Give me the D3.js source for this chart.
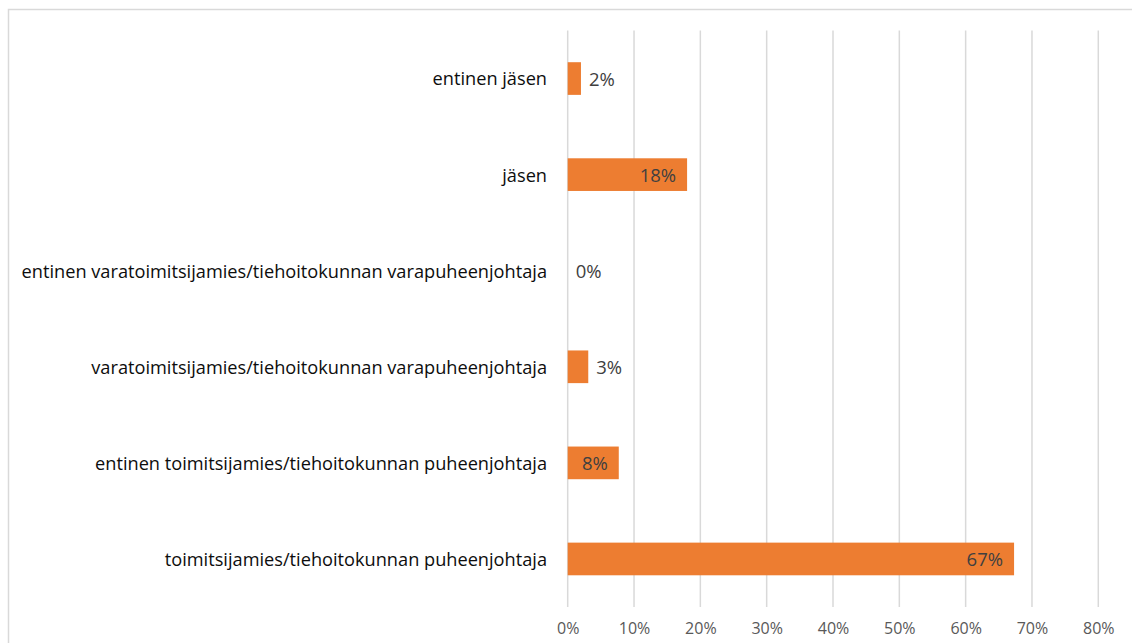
<!DOCTYPE html>
<html>
<head>
<meta charset="utf-8">
<script src="https://cdn.jsdelivr.net/npm/d3@7/dist/d3.min.js"></script>
<style>
  html, body { margin: 0; padding: 0; background: #fff; }
  svg { display: block; }
</style>
</head>
<body>
<svg id="chart" width="1132" height="643"></svg>
<script>
// Roles, listed top to bottom as shown
const categories = [
  "entinen jäsen",
  "jäsen",
  "entinen varatoimitsijamies/tiehoitokunnan varapuheenjohtaja",
  "varatoimitsijamies/tiehoitokunnan varapuheenjohtaja",
  "entinen toimitsijamies/tiehoitokunnan puheenjohtaja",
  "toimitsijamies/tiehoitokunnan puheenjohtaja"
];
// Share of respondents per role
const values = [0.02, 0.18, 0.0, 0.031, 0.077, 0.673];
// Rounded labels shown next to the bars
const valueLabels = ["2%", "18%", "0%", "3%", "8%", "67%"];
// Axis ticks
const tickValues = [0, 0.1, 0.2, 0.3, 0.4, 0.5, 0.6, 0.7, 0.8];

const svg = d3.select("#chart");
const font = "'Open Sans', sans-serif";

// chart frame
svg.append("rect")
  .attr("x", 8.5).attr("y", 9.5)
  .attr("width", 1140).attr("height", 650)
  .attr("fill", "#fff")
  .attr("stroke", "#d9d9d9").attr("stroke-width", 1.5);

const x = d3.scaleLinear().domain([0, 0.8]).range([567.7, 1098.3]);
const y = d3.scaleBand().domain(categories).range([30.5, 607])
  .paddingInner(0.66).paddingOuter(0.33);

// vertical gridlines
svg.append("g")
  .selectAll("line").data(tickValues).join("line")
  .attr("x1", d => x(d)).attr("x2", d => x(d))
  .attr("y1", 30.5).attr("y2", 607)
  .attr("stroke", "#d9d9d9").attr("stroke-width", 1.5);

// x axis tick labels
const xAxis = d3.axisBottom(x).tickValues(tickValues).tickSize(0).tickPadding(0)
  .tickFormat(d3.format(".0%"));
const gx = svg.append("g").attr("transform", "translate(0,620)").call(xAxis);
gx.select(".domain").remove();
gx.selectAll("text")
  .attr("dy", "0.85em")
  .attr("fill", "#595959")
  .style("font-family", font).style("font-size", "16px");

// category labels
const yAxis = d3.axisLeft(y).tickSize(0).tickPadding(0);
const gy = svg.append("g").attr("transform", "translate(547,0)").call(yAxis);
gy.select(".domain").remove();
gy.selectAll("text")
  .attr("fill", "#0d0d0d")
  .attr("dy", "0.38em")
  .style("font-family", font).style("font-size", "18.2px");

// bars
svg.append("g")
  .selectAll("rect").data(values).join("rect")
  .attr("x", x(0))
  .attr("y", (d, i) => y(categories[i]))
  .attr("width", d => x(d) - x(0))
  .attr("height", y.bandwidth())
  .attr("fill", "#ed7d31");

// value labels: inside the bar end when the bar is wide enough, otherwise just past it
svg.append("g")
  .selectAll("text").data(values).join("text")
  .attr("x", d => d >= 0.05 ? x(d) - 11 : x(d) + 8)
  .attr("y", (d, i) => y(categories[i]) + y.bandwidth() / 2)
  .attr("dy", "0.4em")
  .attr("text-anchor", d => d >= 0.05 ? "end" : "start")
  .attr("fill", "#404040")
  .style("font-family", font).style("font-size", "18.5px")
  .text((d, i) => valueLabels[i]);
</script>
</body>
</html>
